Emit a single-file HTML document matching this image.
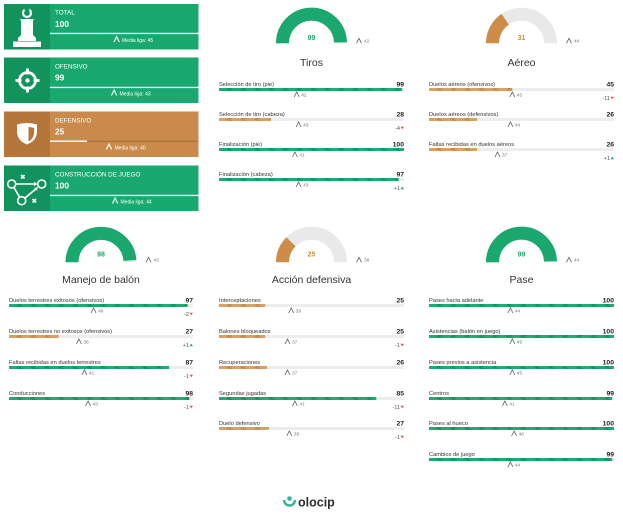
<!DOCTYPE html>
<html><head><meta charset="utf-8"><style>
html,body{margin:0;padding:0;background:#fff;}
svg{display:block;font-family:"Liberation Sans",sans-serif;}
.lb{font-size:5.7px;fill:#333;}
.vl{font-size:6.8px;font-weight:bold;fill:#222;text-anchor:end;}
.tr{fill:#ededed;}
.cr{fill:none;stroke:#555;stroke-width:.75;}
.av{font-size:4.8px;fill:#777;}
.dl{font-size:5.6px;fill:#555;text-anchor:end;}
.tt{font-size:10.5px;fill:#333;text-anchor:middle;}
.gv{font-size:7px;font-weight:bold;text-anchor:middle;}
.ct{font-size:6.3px;fill:#fff;}
.cv{font-size:8.4px;font-weight:bold;fill:#fff;}
.cm{font-size:5px;fill:#fff;}
.wc{fill:none;stroke:#fff;stroke-width:1.1;}
</style></head><body>
<svg width="623" height="519" viewBox="0 0 623 519" xmlns="http://www.w3.org/2000/svg">
<defs>
<pattern id="pg" patternUnits="userSpaceOnUse" width="14" height="3"><rect width="14" height="3" fill="#1fab74"/><polygon points="2,3 5,0 9,0 6,3" fill="#139460"/></pattern>
<pattern id="po" patternUnits="userSpaceOnUse" width="14" height="3"><rect width="14" height="3" fill="#d9a164"/><polygon points="2,3 5,0 9,0 6,3" fill="#c98a4e"/></pattern>
</defs>

<!-- Card 1 TOTAL -->
<g transform="translate(0,4)">
<rect x="4" y="0" width="194.5" height="45.5" fill="#19a96e"/>
<rect x="4" y="0" width="46" height="45.5" fill="#12925c"/>
<circle cx="27" cy="9" r="4" fill="none" stroke="#fff" stroke-width="2.2"/>
<rect x="24.5" y="3.5" width="5" height="3" fill="#12925c"/>
<polygon points="20,15 34,15 33,17 33,31 36,34 36,37 18,37 18,34 21,31 21,17" fill="#fff"/>
<rect x="13" y="37.5" width="28" height="5.5" fill="#fff"/>
<text class="ct" x="55" y="10.7">TOTAL</text>
<text class="cv" x="55" y="23">100</text>
<rect x="50" y="28.8" width="148.5" height="1.3" fill="#fff"/>
<polyline class="wc" points="114,38 116.6,32.5 119.2,38"/>
<text class="cm" x="122" y="38">Media liga: 45</text>
</g>
<!-- Card 2 OFENSIVO -->
<g transform="translate(0,57.5)">
<rect x="4" y="0" width="194.5" height="45.5" fill="#19a96e"/>
<rect x="4" y="0" width="46" height="45.5" fill="#12925c"/>
<circle cx="27.5" cy="23" r="8" fill="none" stroke="#fff" stroke-width="2.8"/>
<line x1="27.5" y1="11" x2="27.5" y2="17" stroke="#fff" stroke-width="2.8"/>
<line x1="27.5" y1="29" x2="27.5" y2="35" stroke="#fff" stroke-width="2.8"/>
<line x1="15.5" y1="23" x2="21.5" y2="23" stroke="#fff" stroke-width="2.8"/>
<line x1="33.5" y1="23" x2="39.5" y2="23" stroke="#fff" stroke-width="2.8"/>
<circle cx="27.5" cy="23" r="2.2" fill="#fff"/>
<text class="ct" x="55" y="10.8">OFENSIVO</text>
<text class="cv" x="55" y="23.2">99</text>
<rect x="50" y="29.3" width="148.5" height="1.3" fill="#fff"/>
<polyline class="wc" points="111.5,38 114.1,32.5 116.7,38"/>
<text class="cm" x="119.5" y="38">Media liga: 43</text>
</g>
<!-- Card 3 DEFENSIVO -->
<g transform="translate(0,111.5)">
<rect x="4" y="0" width="194.5" height="45.5" fill="#c98a4b"/>
<rect x="4" y="0" width="46" height="45.5" fill="#b47639"/>
<path d="M17 13 Q27 10 37 13 L37 20 Q37 29 27 33 Q17 29 17 20 Z" fill="#fff"/>
<path d="M28.5 15.5 Q32 15.8 34.2 16.5 L34.2 20.5 Q34 27 28.5 30 Z" fill="#b47639"/>
<text class="ct" x="55" y="10.8">DEFENSIVO</text>
<text class="cv" x="55" y="23.2">25</text>
<rect x="50" y="29.3" width="148.5" height="1" fill="#a86f36"/>
<rect x="50" y="29" width="37" height="1.4" fill="#fff"/>
<polyline class="wc" points="106.4,38 109,32.5 111.6,38"/>
<text class="cm" x="114.5" y="38">Media liga: 40</text>
</g>
<!-- Card 4 CONSTRUCCIÓN -->
<g transform="translate(0,165.5)">
<rect x="4" y="0" width="194.5" height="45.5" fill="#19a96e"/>
<rect x="4" y="0" width="46" height="45.5" fill="#12925c"/>
<g fill="none" stroke="#fff" stroke-width="1.6">
<circle cx="11.7" cy="18.5" r="4"/>
<circle cx="41.7" cy="18.5" r="4"/>
<circle cx="21.7" cy="35.2" r="4"/>
<line x1="16" y1="18.5" x2="36" y2="18.5"/>
<line x1="14" y1="22" x2="19.5" y2="31.5"/>
<line x1="25" y1="32.5" x2="37" y2="22.5"/>
<line x1="21" y1="9.5" x2="24.5" y2="13"/><line x1="24.5" y1="9.5" x2="21" y2="13"/>
<line x1="32.5" y1="33.5" x2="36" y2="37"/><line x1="36" y1="33.5" x2="32.5" y2="37"/>
</g>
<polygon points="37.5,18.5 34,16.3 34,20.7" fill="#fff"/>
<polygon points="38.2,21.5 34.2,22.6 36.4,25.2" fill="#fff"/>
<text class="ct" x="55" y="10.8">CONSTRUCCIÓN DE JUEGO</text>
<text class="cv" x="55" y="23.2">100</text>
<rect x="50" y="29.3" width="148.5" height="1.3" fill="#fff"/>
<polyline class="wc" points="112.5,38 115.1,32.5 117.7,38"/>
<text class="cm" x="120.5" y="38">Media liga: 44</text>
</g>

<!-- Gauges -->
<g transform="translate(311.5,43.3)">
<path d="M-29 0 A29 29 0 0 1 29 0" stroke="#e9e9e9" stroke-width="13" fill="none"/>
<path d="M-29 0 A29 29 0 0 1 28.99 -0.91" stroke="#1aa86e" stroke-width="13" fill="none"/>
<text class="gv" x="0" y="-3.3" fill="#1aa86e">99</text>
<polyline class="cr" points="45,0 47.5,-5 50,0"/>
<text class="av" x="52.5" y="-0.7">42</text>
<text class="tt" x="0" y="22.7">Tiros</text>
</g>
<g transform="translate(521.5,43.3)">
<path d="M-29 0 A29 29 0 0 1 29 0" stroke="#e9e9e9" stroke-width="13" fill="none"/>
<path d="M-29 0 A29 29 0 0 1 -16.30 -23.99" stroke="#cd8c47" stroke-width="13" fill="none"/>
<text class="gv" x="0" y="-3.3" fill="#c8913e">31</text>
<polyline class="cr" points="45,0 47.5,-5 50,0"/>
<text class="av" x="52.5" y="-0.7">44</text>
<text class="tt" x="0" y="22.7">Aéreo</text>
</g>
<g transform="translate(101,262.3)">
<path d="M-29 0 A29 29 0 0 1 29 0" stroke="#e9e9e9" stroke-width="13" fill="none"/>
<path d="M-29 0 A29 29 0 0 1 28.94 -1.82" stroke="#1aa86e" stroke-width="13" fill="none"/>
<text class="gv" x="0" y="-5.6" fill="#1aa86e">98</text>
<polyline class="cr" points="45,0 47.5,-5 50,0"/>
<text class="av" x="52.5" y="-0.7">43</text>
<text class="tt" x="0" y="20.7">Manejo de balón</text>
</g>
<g transform="translate(311.5,262.3)">
<path d="M-29 0 A29 29 0 0 1 29 0" stroke="#e9e9e9" stroke-width="13" fill="none"/>
<path d="M-29 0 A29 29 0 0 1 -20.51 -20.51" stroke="#cd8c47" stroke-width="13" fill="none"/>
<text class="gv" x="0" y="-5.6" fill="#c8913e">25</text>
<polyline class="cr" points="45,0 47.5,-5 50,0"/>
<text class="av" x="52.5" y="-0.7">38</text>
<text class="tt" x="0" y="20.7">Acción defensiva</text>
</g>
<g transform="translate(521.5,262.3)">
<path d="M-29 0 A29 29 0 0 1 29 0" stroke="#e9e9e9" stroke-width="13" fill="none"/>
<path d="M-29 0 A29 29 0 0 1 28.99 -0.91" stroke="#1aa86e" stroke-width="13" fill="none"/>
<text class="gv" x="0" y="-5.6" fill="#1aa86e">99</text>
<polyline class="cr" points="45,0 47.5,-5 50,0"/>
<text class="av" x="52.5" y="-0.7">44</text>
<text class="tt" x="0" y="20.7">Pase</text>
</g>

<!-- Tiros items -->
<g transform="translate(0,81)">
<text class="lb" x="219" y="5">Selección de tiro (pie)</text><text class="vl" x="404" y="5.5">99</text>
<rect class="tr" x="219" y="7" width="185" height="3"/><rect x="219" y="7" width="183.2" height="3" fill="url(#pg)"/>
<polyline class="cr" points="294.2,16 296.7,11 299.2,16"/><text class="av" x="301.2" y="15.5">42</text>
</g>
<g transform="translate(0,111)">
<text class="lb" x="219" y="5">Selección de tiro (cabeza)</text><text class="vl" x="404" y="5.5">28</text>
<rect class="tr" x="219" y="7" width="185" height="3"/><rect x="219" y="7" width="51.8" height="3" fill="url(#po)"/>
<polyline class="cr" points="296.1,16 298.6,11 301.1,16"/><text class="av" x="303.1" y="15.5">43</text>
<text class="dl" x="400" y="19">-4</text><polygon points="400.5,15.8 404,15.8 402.25,18.3" fill="#d9534f"/>
</g>
<g transform="translate(0,141)">
<text class="lb" x="219" y="5">Finalización (pie)</text><text class="vl" x="404" y="5.5">100</text>
<rect class="tr" x="219" y="7" width="185" height="3"/><rect x="219" y="7" width="185" height="3" fill="url(#pg)"/>
<polyline class="cr" points="292.4,16 294.9,11 297.4,16"/><text class="av" x="299.4" y="15.5">41</text>
</g>
<g transform="translate(0,171)">
<text class="lb" x="219" y="5">Finalización (cabeza)</text><text class="vl" x="404" y="5.5">97</text>
<rect class="tr" x="219" y="7" width="185" height="3"/><rect x="219" y="7" width="179.5" height="3" fill="url(#pg)"/>
<polyline class="cr" points="296.1,16 298.6,11 301.1,16"/><text class="av" x="303.1" y="15.5">43</text>
<text class="dl" x="400" y="19">+1</text><polygon points="400.5,18.3 404,18.3 402.25,15.8" fill="#1aa86e"/>
</g>

<!-- Aereo items -->
<g transform="translate(0,81)">
<text class="lb" x="429" y="5">Duelos aéreos (ofensivos)</text><text class="vl" x="614" y="5.5">45</text>
<rect class="tr" x="429" y="7" width="185" height="3"/><rect x="429" y="7" width="83.3" height="3" fill="url(#po)"/>
<polyline class="cr" points="509.8,16 512.3,11 514.8,16"/><text class="av" x="516.8" y="15.5">45</text>
<text class="dl" x="610" y="19">-11</text><polygon points="610.5,15.8 614,15.8 612.25,18.3" fill="#d9534f"/>
</g>
<g transform="translate(0,111)">
<text class="lb" x="429" y="5">Duelos aéreos (defensivos)</text><text class="vl" x="614" y="5.5">26</text>
<rect class="tr" x="429" y="7" width="185" height="3"/><rect x="429" y="7" width="48.1" height="3" fill="url(#po)"/>
<polyline class="cr" points="507.9,16 510.4,11 512.9,16"/><text class="av" x="514.9" y="15.5">44</text>
</g>
<g transform="translate(0,141)">
<text class="lb" x="429" y="5">Faltas recibidas en duelos aéreos</text><text class="vl" x="614" y="5.5">26</text>
<rect class="tr" x="429" y="7" width="185" height="3"/><rect x="429" y="7" width="48.1" height="3" fill="url(#po)"/>
<polyline class="cr" points="495,16 497.5,11 500,16"/><text class="av" x="502" y="15.5">37</text>
<text class="dl" x="610" y="19">+1</text><polygon points="610.5,18.3 614,18.3 612.25,15.8" fill="#1aa86e"/>
</g>

<!-- Manejo items -->
<g transform="translate(0,297)">
<text class="lb" x="9" y="5">Duelos terrestres exitosos (ofensivos)</text><text class="vl" x="193" y="5.5">97</text>
<rect class="tr" x="9" y="7" width="184" height="3"/><rect x="9" y="7" width="178.5" height="3" fill="url(#pg)"/>
<polyline class="cr" points="91.1,16 93.6,11 96.1,16"/><text class="av" x="98.1" y="15.5">46</text>
<text class="dl" x="189" y="19">-2</text><polygon points="189.5,15.8 193,15.8 191.25,18.3" fill="#d9534f"/>
</g>
<g transform="translate(0,328)">
<text class="lb" x="9" y="5">Duelos terrestres no exitosos (ofensivos)</text><text class="vl" x="193" y="5.5">27</text>
<rect class="tr" x="9" y="7" width="184" height="3"/><rect x="9" y="7" width="49.7" height="3" fill="url(#po)"/>
<polyline class="cr" points="76.4,16 78.9,11 81.4,16"/><text class="av" x="83.4" y="15.5">38</text>
<text class="dl" x="189" y="19">+1</text><polygon points="189.5,18.3 193,18.3 191.25,15.8" fill="#1aa86e"/>
</g>
<g transform="translate(0,359)">
<text class="lb" x="9" y="5">Faltas recibidas en duelos terrestres</text><text class="vl" x="193" y="5.5">87</text>
<rect class="tr" x="9" y="7" width="184" height="3"/><rect x="9" y="7" width="160.1" height="3" fill="url(#pg)"/>
<polyline class="cr" points="81.9,16 84.4,11 86.9,16"/><text class="av" x="88.9" y="15.5">41</text>
<text class="dl" x="189" y="19">-1</text><polygon points="189.5,15.8 193,15.8 191.25,18.3" fill="#d9534f"/>
</g>
<g transform="translate(0,390)">
<text class="lb" x="9" y="5">Conducciones</text><text class="vl" x="193" y="5.5">98</text>
<rect class="tr" x="9" y="7" width="184" height="3"/><rect x="9" y="7" width="180.3" height="3" fill="url(#pg)"/>
<polyline class="cr" points="85.6,16 88.1,11 90.6,16"/><text class="av" x="92.6" y="15.5">43</text>
<text class="dl" x="189" y="19">-1</text><polygon points="189.5,15.8 193,15.8 191.25,18.3" fill="#d9534f"/>
</g>

<!-- Accion defensiva -->
<g transform="translate(0,297)">
<text class="lb" x="219" y="5">Interceptaciones</text><text class="vl" x="404" y="5.5">25</text>
<rect class="tr" x="219" y="7" width="185" height="3"/><rect x="219" y="7" width="46.3" height="3" fill="url(#po)"/>
<polyline class="cr" points="288.7,16 291.2,11 293.7,16"/><text class="av" x="295.7" y="15.5">39</text>
</g>
<g transform="translate(0,328)">
<text class="lb" x="219" y="5">Balones bloqueados</text><text class="vl" x="404" y="5.5">25</text>
<rect class="tr" x="219" y="7" width="185" height="3"/><rect x="219" y="7" width="46.3" height="3" fill="url(#po)"/>
<polyline class="cr" points="285,16 287.5,11 290,16"/><text class="av" x="292" y="15.5">37</text>
<text class="dl" x="400" y="19">-1</text><polygon points="400.5,15.8 404,15.8 402.25,18.3" fill="#d9534f"/>
</g>
<g transform="translate(0,359)">
<text class="lb" x="219" y="5">Recuperaciones</text><text class="vl" x="404" y="5.5">26</text>
<rect class="tr" x="219" y="7" width="185" height="3"/><rect x="219" y="7" width="48.1" height="3" fill="url(#po)"/>
<polyline class="cr" points="285,16 287.5,11 290,16"/><text class="av" x="292" y="15.5">37</text>
</g>
<g transform="translate(0,390)">
<text class="lb" x="219" y="5">Segundas jugadas</text><text class="vl" x="404" y="5.5">85</text>
<rect class="tr" x="219" y="7" width="185" height="3"/><rect x="219" y="7" width="157.3" height="3" fill="url(#pg)"/>
<polyline class="cr" points="292.4,16 294.9,11 297.4,16"/><text class="av" x="299.4" y="15.5">41</text>
<text class="dl" x="400" y="19">-11</text><polygon points="400.5,15.8 404,15.8 402.25,18.3" fill="#d9534f"/>
</g>
<g transform="translate(0,420)">
<text class="lb" x="219" y="5">Duelo defensivo</text><text class="vl" x="404" y="5.5">27</text>
<rect class="tr" x="219" y="7" width="185" height="3"/><rect x="219" y="7" width="50" height="3" fill="url(#po)"/>
<polyline class="cr" points="286.8,16 289.3,11 291.8,16"/><text class="av" x="293.8" y="15.5">38</text>
<text class="dl" x="400" y="19">-1</text><polygon points="400.5,15.8 404,15.8 402.25,18.3" fill="#d9534f"/>
</g>

<!-- Pase -->
<g transform="translate(0,297)">
<text class="lb" x="429" y="5">Pases hacia adelante</text><text class="vl" x="614" y="5.5">100</text>
<rect class="tr" x="429" y="7" width="185" height="3"/><rect x="429" y="7" width="185" height="3" fill="url(#pg)"/>
<polyline class="cr" points="507.9,16 510.4,11 512.9,16"/><text class="av" x="514.9" y="15.5">44</text>
</g>
<g transform="translate(0,328)">
<text class="lb" x="429" y="5">Asistencias (balón en juego)</text><text class="vl" x="614" y="5.5">100</text>
<rect class="tr" x="429" y="7" width="185" height="3"/><rect x="429" y="7" width="185" height="3" fill="url(#pg)"/>
<polyline class="cr" points="509.8,16 512.3,11 514.8,16"/><text class="av" x="516.8" y="15.5">45</text>
</g>
<g transform="translate(0,359)">
<text class="lb" x="429" y="5">Pases previos a asistencia</text><text class="vl" x="614" y="5.5">100</text>
<rect class="tr" x="429" y="7" width="185" height="3"/><rect x="429" y="7" width="185" height="3" fill="url(#pg)"/>
<polyline class="cr" points="509.8,16 512.3,11 514.8,16"/><text class="av" x="516.8" y="15.5">45</text>
</g>
<g transform="translate(0,390)">
<text class="lb" x="429" y="5">Centros</text><text class="vl" x="614" y="5.5">99</text>
<rect class="tr" x="429" y="7" width="185" height="3"/><rect x="429" y="7" width="183.2" height="3" fill="url(#pg)"/>
<polyline class="cr" points="502.4,16 504.9,11 507.4,16"/><text class="av" x="509.4" y="15.5">41</text>
</g>
<g transform="translate(0,420)">
<text class="lb" x="429" y="5">Pases al hueco</text><text class="vl" x="614" y="5.5">100</text>
<rect class="tr" x="429" y="7" width="185" height="3"/><rect x="429" y="7" width="185" height="3" fill="url(#pg)"/>
<polyline class="cr" points="511.6,16 514.1,11 516.6,16"/><text class="av" x="518.6" y="15.5">46</text>
</g>
<g transform="translate(0,451)">
<text class="lb" x="429" y="5">Cambios de juego</text><text class="vl" x="614" y="5.5">99</text>
<rect class="tr" x="429" y="7" width="185" height="3"/><rect x="429" y="7" width="183.2" height="3" fill="url(#pg)"/>
<polyline class="cr" points="507.9,16 510.4,11 512.9,16"/><text class="av" x="514.9" y="15.5">44</text>
</g>

<!-- Logo -->
<path d="M284 500 A5 5 0 0 0 295 500" fill="none" stroke="#33b4a0" stroke-width="2.4"/>
<circle cx="289.5" cy="498.5" r="2.3" fill="#33b4a0"/>
<text x="298" y="506.5" font-size="12.5" font-weight="bold" fill="#2e2e2e">olocip</text>
</svg>
</body></html>
